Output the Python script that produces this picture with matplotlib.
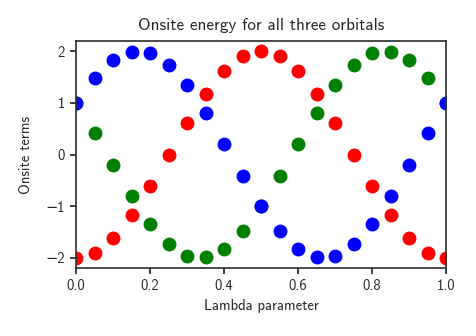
import matplotlib
matplotlib.use("Agg")
import matplotlib.pyplot as plt

# Computer Modern sans, shipped with matplotlib; DejaVu supplies the minus
plt.rcParams['font.family'] = ['cmss10', 'DejaVu Sans']
plt.rcParams['axes.formatter.use_mathtext'] = False
plt.rcParams['axes.unicode_minus'] = True
plt.rcParams['font.size'] = 10.5
plt.rcParams['text.color'] = '.15'
plt.rcParams['axes.labelcolor'] = '.15'
plt.rcParams['xtick.color'] = '.15'
plt.rcParams['ytick.color'] = '.15'
plt.rcParams['axes.edgecolor'] = '.2'

lam = [0.0, 0.05, 0.1, 0.15, 0.2, 0.25, 0.3, 0.35, 0.4, 0.45, 0.5,
       0.55, 0.6, 0.65, 0.7, 0.75, 0.8, 0.85, 0.9, 0.95, 1.0]
orb_red = [-2.00, -1.90, -1.62, -1.18, -0.62, 0.00, 0.62, 1.18, 1.62, 1.90, 2.00,
           1.90, 1.62, 1.18, 0.62, 0.00, -0.62, -1.18, -1.62, -1.90, -2.00]
orb_green = [1.00, 0.42, -0.21, -0.81, -1.34, -1.73, -1.96, -1.99, -1.83, -1.49, -1.00,
             -0.42, 0.21, 0.81, 1.34, 1.73, 1.96, 1.99, 1.83, 1.49, 1.00]
orb_blue = [1.00, 1.49, 1.83, 1.99, 1.96, 1.73, 1.34, 0.81, 0.21, -0.42, -1.00,
            -1.49, -1.83, -1.99, -1.96, -1.73, -1.34, -0.81, -0.21, 0.42, 1.00]

fig = plt.figure(figsize=(4.76, 3.36), dpi=100)
ax = fig.add_axes([76 / 476, 1 - 268 / 336, 370 / 476, 227 / 336])

ax.plot(lam, orb_red, 'o', color='red', ms=9)
ax.plot(lam, orb_green, 'o', color='green', ms=9)
ax.plot(lam, orb_blue, 'o', color='blue', ms=9)

ax.set_xlim(0, 1)
ax.set_ylim(-2.2, 2.2)
ax.set_yticks([-2, -1, 0, 1, 2])
for s in ax.spines.values():
    s.set_linewidth(1.25)
ax.tick_params(width=1.25, length=4.5)

ax.set_title('Onsite energy for all three orbitals', pad=8, fontsize=12.3)
ax.set_xlabel('Lambda parameter')
ax.set_ylabel('Onsite terms', labelpad=9)

fig.savefig('out.png', dpi=100)
